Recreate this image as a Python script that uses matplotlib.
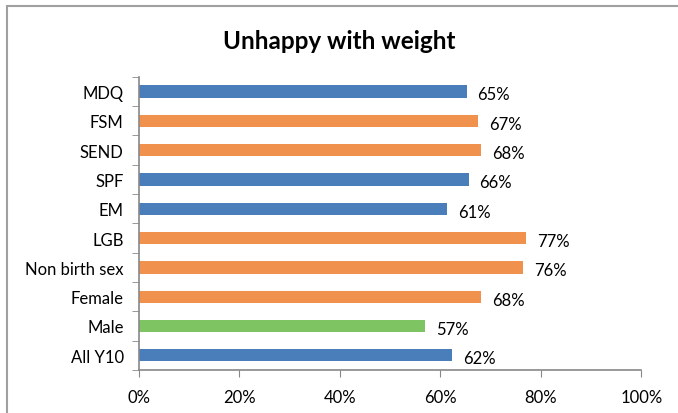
import matplotlib.pyplot as plt
from matplotlib.patches import Rectangle

categories = ["All Y10", "Male", "Female", "Non birth sex", "LGB", "EM", "SPF", "SEND", "FSM", "MDQ"]
values = [0.624, 0.569, 0.680, 0.764, 0.771, 0.614, 0.656, 0.680, 0.674, 0.652]
groups = ["all", "male", "other", "other", "other", "all", "all", "other", "other", "all"]
palette = {"all": "#4A7EBB", "male": "#7FC462", "other": "#F0914E"}
xticks = [0, 0.2, 0.4, 0.6, 0.8, 1.0]

plt.rcParams['font.family'] = ['Lato', 'DejaVu Sans']

fig = plt.figure(figsize=(6.78, 4.14), dpi=100)
ax = fig.add_axes([0.205, 0.104, 0.741, 0.708])

pos = range(len(categories))
bars = ax.barh(pos, values, height=0.42, color=[palette[g] for g in groups])
for b, v in zip(bars, values):
    ax.text(v + 0.022, b.get_y() + b.get_height() / 2 - 0.1, f"{v:.0%}",
            va="center", ha="left", fontsize=12)

ax.set_xlim(0, 1)
ax.set_ylim(-0.5, len(categories) - 0.5)
ax.set_xticks(xticks)
ax.set_xticklabels([f"{t:.0%}" for t in xticks], fontsize=12)
ax.set_yticks(list(pos))
ax.set_yticklabels(categories, fontsize=12)
ax.set_yticks([i - 0.5 for i in range(len(categories) + 1)], minor=True)
ax.tick_params(axis="y", which="major", length=0, pad=11)
ax.tick_params(axis="y", which="minor", length=5, color="#888888", direction="out")
ax.tick_params(axis="x", length=5, color="#888888", pad=9)
for s in ["top", "right"]:
    ax.spines[s].set_visible(False)
for s in ["left", "bottom"]:
    ax.spines[s].set_color("#888888")
    ax.spines[s].set_linewidth(1.2)

fig.text(0.5, 0.9, "Unhappy with weight", ha="center", va="center",
         fontsize=17.5, fontweight="bold")
fig.patches.append(Rectangle((7 / 678, -0.1), 1.2, 1.1 - 7 / 414, transform=fig.transFigure,
                             fill=False, edgecolor="#A0A0A0", linewidth=1.5))

fig.savefig("out.png", dpi=100)
